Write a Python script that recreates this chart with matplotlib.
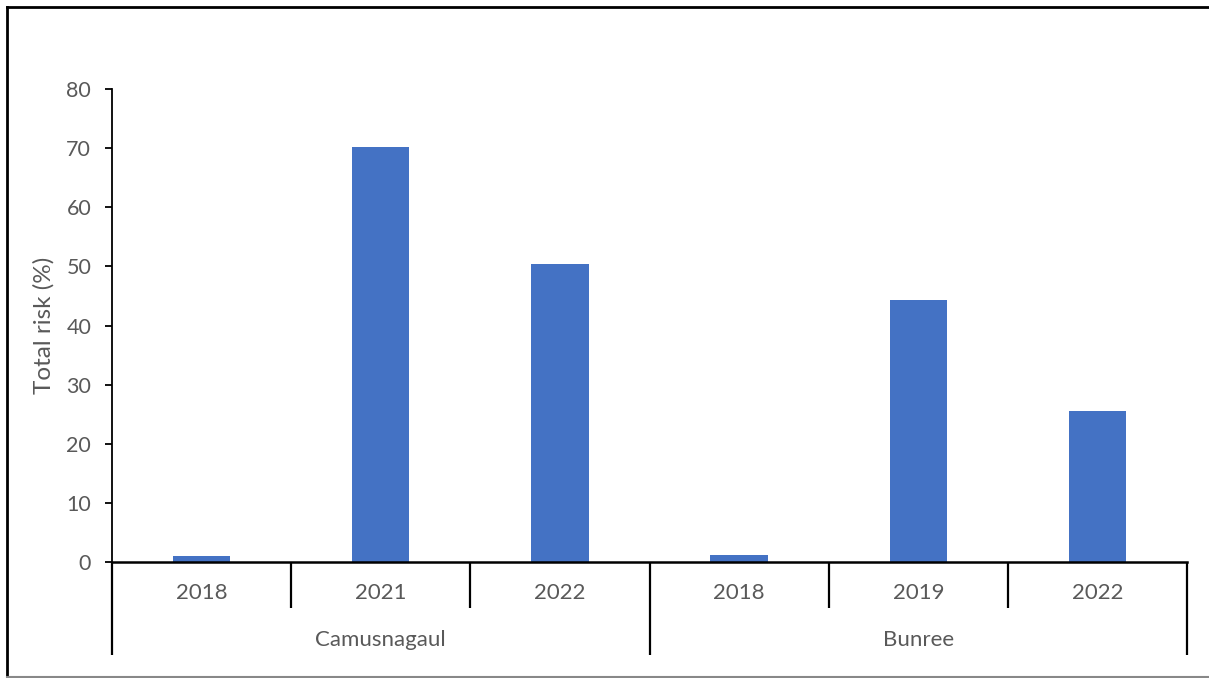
import numpy as np
import matplotlib.pyplot as plt

# данные
sites = ['Camusnagaul', 'Bunree']
years = ['2018', '2021', '2022', '2018', '2019', '2022']
site_of_bar = [0, 0, 0, 1, 1, 1]
risk = [1.0, 70.2, 50.4, 1.2, 44.3, 25.5]

plt.rcParams['font.family'] = ['Lato', 'DejaVu Sans']
txt_col = '#595959'

W, H = 1209, 678
fig = plt.figure(figsize=(W / 100, H / 100), dpi=100)
ax = fig.add_axes([112 / W, 1 - 562 / H, (1187 - 112) / W, (562 - 89) / H])

x = np.arange(len(years))
ax.bar(x, risk, width=0.32, color='#4472C4', zorder=2)

ax.set_xlim(-0.5, len(years) - 0.5)
ax.set_ylim(0, 80)
ax.set_yticks(np.arange(0, 81, 10))
ax.tick_params(axis='y', direction='out', length=5, width=1.3, colors='black',
               labelcolor=txt_col, labelsize=15.5, pad=10)
ax.set_xticks([])
for s in ['top', 'right']:
    ax.spines[s].set_visible(False)
ax.spines['left'].set_linewidth(1.3)
ax.spines['bottom'].set_linewidth(1.8)
ax.set_ylabel('Total risk (%)', fontsize=17.5, color=txt_col)
ax.yaxis.set_label_coords((55 - 112) / (1187 - 112), 0.5)

# многоуровневая ось категорий
tr = ax.get_xaxis_transform()
for i, y in enumerate(years):
    ax.text(x[i], -0.0655, y, transform=tr, ha='center', va='center',
            fontsize=16, color=txt_col)
for b in np.arange(-0.5, len(years), 1.0):
    long_line = (b == -0.5) or (b == len(years) - 0.5) or (b == 2.5)
    y_end = -0.1966 if long_line else -0.0973
    ax.plot([b, b], [0, y_end], transform=tr, color='black', lw=1.6,
            clip_on=False, solid_capstyle='butt')
for k, name in enumerate(sites):
    xs = [x[i] for i in range(len(years)) if site_of_bar[i] == k]
    ax.text(np.mean(xs), -0.1649, name, transform=tr, ha='center', va='center',
            fontsize=16, color=txt_col)

# рамка
fig.add_artist(plt.Line2D([7 / W, 7 / W], [1 - 7 / H, 1 - 677 / H], transform=fig.transFigure,
                          color='black', lw=2))
fig.add_artist(plt.Line2D([7 / W, 1], [1 - 7 / H, 1 - 7 / H], transform=fig.transFigure,
                          color='black', lw=2))
fig.add_artist(plt.Line2D([7 / W, 1], [1 - 677 / H, 1 - 677 / H], transform=fig.transFigure,
                          color='#888888', lw=1.5))

fig.savefig('out.png', dpi=100)
